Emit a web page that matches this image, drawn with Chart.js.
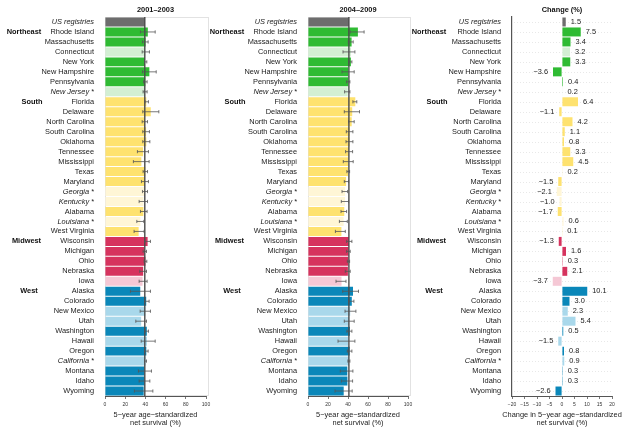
<!DOCTYPE html>
<html><head><meta charset="utf-8">
<script src="https://cdn.jsdelivr.net/npm/chart.js@4.4.1/dist/chart.umd.min.js"></script>
<style>
html,body{margin:0;padding:0;background:#fff;width:629px;height:433px;overflow:hidden}
canvas{position:absolute;top:0}
</style></head><body>
<canvas id="c1" width="215" height="433" style="left:0px"></canvas>
<canvas id="c2" width="215" height="433" style="left:203px"></canvas>
<canvas id="c3" width="224" height="433" style="left:405px"></canvas>
<script>
// ---------- data ----------
const states = ['US registries','Rhode Island','Massachusetts','Connecticut','New York','New Hampshire','Pennsylvania','New Jersey *',
 'Florida','Delaware','North Carolina','South Carolina','Oklahoma','Tennessee','Mississippi','Texas','Maryland','Georgia *','Kentucky *','Alabama','Louisiana *','West Virginia',
 'Wisconsin','Michigan','Ohio','Nebraska','Iowa',
 'Alaska','Colorado','New Mexico','Utah','Washington','Hawaii','Oregon','California *','Montana','Idaho','Wyoming'];
const rowRegion = ['US','Northeast','Northeast','Northeast','Northeast','Northeast','Northeast','Northeast',
 'South','South','South','South','South','South','South','South','South','South','South','South','South','South',
 'Midwest','Midwest','Midwest','Midwest','Midwest',
 'West','West','West','West','West','West','West','West','West','West','West'];
const lightRows = ['Connecticut','New Jersey *','Georgia *','Kentucky *','Louisiana *','Iowa','New Mexico','Utah','Hawaii','California *'];
const regions = ['Northeast','South','Midwest','West'];

const surv0103 = [39.4,42.4,40.2,39.8,39.6,43.9,39.9,39.5, 40.9,45.3,39.5,40.7,40.9,37.7,36.0,39.9,39.6,39.2,38.0,38.0,35.0,33.3, 42.2,39.0,40.0,37.8,37.2, 34.9,40.8,39.9,35.8,41.4,41.5,40.9,40.1,39.0,39.1,38.3];
const lo0103 = [null,35.1,37.1,36.8,39.1,37.1,38.1,37.7, 39.7,37.4,36.8,37.4,37.4,32.1,28.1,37.7,36.1,37.1,33.8,35.1,31.5,28.8, 39.4,37.7,38.7,34.4,33.8, 25.2,39.4,34.8,30.5,39.7,35.8,39.1,39.1,33.1,33.8,29.1];
const hi0103 = [null,49.7,42.7,44.0,41.4,50.7,41.7,41.7, 43.0,53.3,42.1,44.0,44.4,43.0,43.7,42.1,43.0,42.1,42.1,41.7,38.4,38.7, 45.0,41.1,41.4,41.1,41.7, 45.0,43.7,45.0,41.1,43.0,49.7,42.7,41.1,46.0,44.4,47.4];

const surv0409 = [40.9,49.9,43.6,43.0,42.9,40.3,40.3,39.7, 47.3,44.2,43.7,41.8,41.7,41.0,40.5,40.1,38.1,37.1,37.0,36.3,35.6,33.4, 40.9,40.6,40.3,39.9,33.5, 45.0,43.8,42.2,41.2,41.9,40.0,41.7,41.0,39.3,39.4,35.7];
const lo0409 = [null,42.2,40.3,35.0,40.6,34.0,38.6,36.6, 44.9,36.3,40.6,38.3,38.0,37.6,35.3,38.9,36.3,34.0,33.3,33.0,31.4,27.4, 38.6,38.6,39.3,37.3,28.0, 34.7,40.6,37.0,36.3,38.9,30.0,39.3,39.9,32.3,33.3,27.0];
const hi0409 = [null,56.1,45.2,46.9,43.9,46.2,41.9,41.9, 48.8,51.5,46.2,44.9,44.9,44.6,45.2,41.6,40.6,39.6,40.6,38.6,39.3,37.3, 43.9,42.2,41.6,42.2,38.0, 50.5,45.9,47.9,46.2,43.9,46.9,43.9,41.9,44.9,44.6,44.2];

const change = [1.5,7.5,3.4,3.2,3.3,-3.6,0.4,0.2, 6.4,-1.1,4.2,1.1,0.8,3.3,4.5,0.2,-1.5,-2.1,-1.0,-1.7,0.6,0.1, -1.3,1.6,0.3,2.1,-3.7, 10.1,3.0,2.3,5.4,0.5,-1.5,0.8,0.9,0.3,0.3,-2.6];

const survTicks = [0,20,40,60,80,100];
const changeTicks = [-20,-15,-10,-5,0,5,10,15,20];

// ---------- styling ----------
const FONT = '"Liberation Sans", Arial, Helvetica, sans-serif';
const FS = 7.4;
const regionColor = {US:'#6d6d6d', Northeast:'#2fbb33', South:'#fee26f', Midwest:'#d6335e', West:'#0a87b9'};
const regionLight = {US:'#6d6d6d', Northeast:'#d3efd3', South:'#fff6d6', Midwest:'#f5c8d5', West:'#a9d8eb'};
const regionX = {Northeast:24, South:32, Midwest:26.5, West:29};
const colors = states.map((s,i)=> lightRows.includes(s) ? regionLight[rowRegion[i]] : regionColor[rowRegion[i]]);
const minus = v => (v<0?'\u2212':'') + Math.abs(v);
const minus1 = v => (v<0?'\u2212':'') + Math.abs(v).toFixed(1);

function overlay(cfg){
  return {
    id:'overlay',
    beforeDatasetsDraw(chart){
      const {ctx, chartArea:a, scales:{y}} = chart;
      ctx.save();
      if (cfg.frame){
        ctx.strokeStyle='#e2e2e2'; ctx.lineWidth=1;
        ctx.strokeRect(a.left+0.5, a.top+0.5, a.right-a.left+2, a.bottom-a.top-1);
      }
      if (cfg.dotted){
        ctx.strokeStyle='#dedede'; ctx.lineWidth=0.7; ctx.setLineDash([1,2]);
        states.forEach((s,i)=>{
          const yy = Math.round(y.getPixelForValue(i))+0.5;
          ctx.beginPath(); ctx.moveTo(a.left+2, yy); ctx.lineTo(a.right, yy); ctx.stroke();
        });
      }
      ctx.restore();
    },
    afterDatasetsDraw(chart){
      const {ctx, chartArea:a, scales:{x,y}} = chart;
      ctx.save();
      if (cfg.ref!=null){
        const px = x.getPixelForValue(cfg.ref);
        ctx.strokeStyle='#4a4a4a'; ctx.lineWidth=1.4;
        ctx.beginPath(); ctx.moveTo(px,a.top); ctx.lineTo(px,a.bottom); ctx.stroke();
      }
      if (cfg.lo){
        ctx.strokeStyle='#555'; ctx.lineWidth=0.8;
        cfg.lo.forEach((l,i)=>{
          if (l==null) return;
          const yy = y.getPixelForValue(i), x1=x.getPixelForValue(l), x2=x.getPixelForValue(cfg.hi[i]);
          ctx.beginPath();
          ctx.moveTo(x1,yy); ctx.lineTo(x2,yy);
          ctx.moveTo(x1,yy-1.6); ctx.lineTo(x1,yy+1.6);
          ctx.moveTo(x2,yy-1.6); ctx.lineTo(x2,yy+1.6);
          ctx.stroke();
        });
      }
      if (cfg.labels){
        ctx.font = FS+'px '+FONT; ctx.fillStyle='#222'; ctx.textBaseline='middle';
        cfg.labels.forEach((v,i)=>{
          const yy = y.getPixelForValue(i), e = x.getPixelForValue(v);
          if (v>=0){ ctx.textAlign='left'; ctx.fillText(minus1(v), e+5, yy); }
          else { ctx.textAlign='right'; ctx.fillText(minus1(v), e-5, yy); }
        });
      }
      ctx.restore();
    },
    afterDraw(chart){
      const {ctx, chartArea:a, scales:{y}} = chart;
      ctx.save();
      ctx.fillStyle='#111'; ctx.textBaseline='middle'; ctx.textAlign='center';
      ctx.font = 'bold '+FS+'px '+FONT;
      ctx.fillText(cfg.title, (a.left+a.right)/2, 10);
      regions.forEach(r=>{
        const i = rowRegion.indexOf(r);
        ctx.fillText(r, regionX[r], y.getPixelForValue(i));
      });
      ctx.font = FS+'px '+FONT; ctx.fillStyle='#222';
      ctx.fillText(cfg.axis[0], (a.left+a.right)/2, 414.5);
      ctx.fillText(cfg.axis[1], (a.left+a.right)/2, 422.5);
      ctx.restore();
    }
  };
}

function makeChart(id, values, xmin, xmax, yw, padRight, cfg){
  return new Chart(document.getElementById(id), {
    type:'bar',
    data:{labels:states, datasets:[{data:values, backgroundColor:colors, borderWidth:0, barPercentage:0.9, categoryPercentage:1.0}]},
    options:{
      indexAxis:'y', responsive:false, animation:false, events:[],
      layout:{padding:{top:17, left:0, right:padRight, bottom:0}},
      plugins:{legend:{display:false}, tooltip:{enabled:false}},
      scales:{
        x:{type:'linear', min:xmin, max:xmax,
           afterBuildTicks: s => { s.ticks = (xmin<0?changeTicks:survTicks).map(v=>({value:v})); },
           afterFit: s => { s.height = 37; },
           ticks:{padding:3, color:'#333', font:{family:FONT, size:5}, callback:v=>minus(v), maxRotation:0},
           grid:{drawOnChartArea:false, drawTicks:true, tickLength:3, color:'#555', lineWidth:0.8},
           border:{display:true, color:'#555', width:1}},
        y:{afterFit: s => { s.width = yw; },
           ticks:{autoSkip:false, padding:3, color:'#1a1a1a',
             font:c=>({family:FONT, size:FS, style:(c.index===0||/\*$/.test(states[c.index]))?'italic':'normal'})},
           grid:{display:false},
           border:{display:true, color:'#555', width:cfg.dotted?1.2:1}}
      }
    },
    plugins:[overlay(cfg)]
  });
}

const axisSurv = ['5\u2212year age\u2212standardized','net survival (%)'];
makeChart('c1', surv0103, 0, 100, 105, 9, {title:'2001\u20132003', frame:true, ref:surv0103[0], lo:lo0103, hi:hi0103, axis:axisSurv});
makeChart('c2', surv0409, 0, 100, 105, 10, {title:'2004\u20132009', frame:true, ref:surv0409[0], lo:lo0409, hi:hi0409, axis:axisSurv});
makeChart('c3', change, -20, 20, 107, 17, {title:'Change (%)', frame:false, dotted:true, labels:change, axis:['Change in 5\u2212year age\u2212standardized','net survival (%)']});
</script>
</body></html>
